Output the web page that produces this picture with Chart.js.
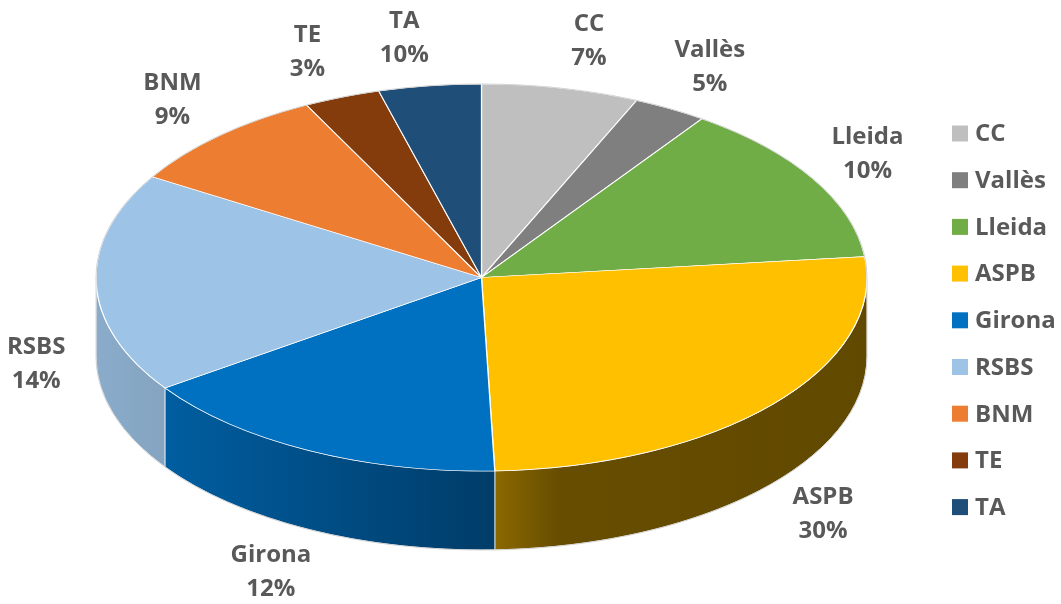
<!DOCTYPE html>
<html>
<head>
<meta charset="utf-8">
<script src="https://cdn.jsdelivr.net/npm/chart.js@4.4.1/dist/chart.umd.min.js"></script>
<style>
  html, body { margin: 0; padding: 0; background: #fff; }
  #chart { display: block; }
</style>
</head>
<body>
<canvas id="chart" width="1061" height="604"></canvas>
<script>
const categories = ['CC', 'Vallès', 'Lleida', 'ASPB', 'Girona', 'RSBS', 'BNM', 'TE', 'TA'];
// slice sizes as drawn in the picture (the printed percentages differ)
const sliceValues = [6.6, 3.1, 13.6, 26.2, 15.9, 18.4, 8.8, 3.2, 4.3];
const percentLabels = ['7%', '5%', '10%', '30%', '12%', '14%', '9%', '3%', '10%'];
const sliceColors = ['#BFBFBF', '#7F7F7F', '#70AD47', '#FFC000', '#0070C0', '#9DC3E6', '#ED7D31', '#843C0C', '#1F4E79'];

const FONT = '"Open Sans", "DejaVu Sans", sans-serif';
const TEXT_COLOR = '#595959';

function shade(hex, f) {
  const n = parseInt(hex.slice(1), 16);
  const r = Math.round(((n >> 16) & 255) * f);
  const g = Math.round(((n >> 8) & 255) * f);
  const b = Math.round((n & 255) * f);
  return `rgb(${r},${g},${b})`;
}

// squash the flat pie into an ellipse and give it a rim
const pie3d = {
  id: 'pie3d',
  beforeDatasetsDraw(chart, args, opts) {
    const ctx = chart.ctx;
    const arcs = chart.getDatasetMeta(0).data;
    const { cx, cy, rx, ry, depth } = opts;
    const colors = chart.data.datasets[0].backgroundColor;
    ctx.save();
    arcs.forEach((arc, i) => {
      const t0 = Math.max(arc.startAngle, 0);
      const t1 = Math.min(arc.endAngle, Math.PI);
      if (t1 <= t0) return;
      const grad = ctx.createLinearGradient(cx - rx, 0, cx + rx, 0);
      [[0, 0.88], [0.085, 0.84], [0.52, 0.54], [0.6, 0.4], [1, 0.38]]
        .forEach(([stop, f]) => grad.addColorStop(stop, shade(colors[i], f)));
      ctx.beginPath();
      ctx.ellipse(cx, cy, rx, ry, 0, t0, t1);
      ctx.ellipse(cx, cy + depth, rx, ry, 0, t1, t0, true);
      ctx.closePath();
      ctx.fillStyle = grad;
      ctx.fill();
      ctx.strokeStyle = 'rgba(255,255,255,0.7)';
      ctx.lineWidth = 1;
      ctx.stroke();
    });
    const a = arcs[0];
    ctx.translate(cx, cy);
    ctx.scale(rx / a.outerRadius, ry / a.outerRadius);
    ctx.translate(-a.x, -a.y);
  },
  afterDatasetsDraw(chart, args, opts) {
    const ctx = chart.ctx;
    ctx.restore();
    const { cx, cy, rx, ry, depth } = opts;
    const arcs = chart.getDatasetMeta(0).data;

    // rim outline
    ctx.save();
    ctx.strokeStyle = '#D4D4D4';
    ctx.lineWidth = 1;
    ctx.beginPath();
    ctx.ellipse(cx, cy, rx, ry, 0, Math.PI, 2 * Math.PI);
    ctx.stroke();
    ctx.beginPath();
    ctx.moveTo(cx + rx, cy);
    ctx.lineTo(cx + rx, cy + depth);
    ctx.ellipse(cx, cy + depth, rx, ry, 0, 0, Math.PI);
    ctx.lineTo(cx - rx, cy);
    ctx.stroke();

    // data labels outside each slice
    ctx.font = `bold 24px ${FONT}`;
    ctx.fillStyle = TEXT_COLOR;
    ctx.textAlign = 'center';
    ctx.textBaseline = 'middle';
    arcs.forEach((arc, i) => {
      const mid = (arc.startAngle + arc.endAngle) / 2;
      const c = Math.cos(mid), s = Math.sin(mid);
      const x = cx + rx * c + c * 40 + Math.sign(c) * 20;
      const y = cy + ry * s + s * 48 + (s > 0 ? depth : 0);
      ctx.fillText(chart.data.labels[i], x, y - 17);
      ctx.fillText(percentLabels[i], x, y + 17);
    });
    ctx.restore();
  },
  afterDraw(chart, args, opts) {
    // legend on the right
    const ctx = chart.ctx;
    const { legendX, legendY, legendStep } = opts;
    const colors = chart.data.datasets[0].backgroundColor;
    ctx.save();
    ctx.font = `bold 24px ${FONT}`;
    ctx.fillStyle = TEXT_COLOR;
    ctx.textBaseline = 'middle';
    chart.data.labels.forEach((label, i) => {
      const y = legendY + i * legendStep;
      ctx.fillStyle = colors[i];
      ctx.fillRect(legendX, y - 8, 16, 16);
      ctx.fillStyle = TEXT_COLOR;
      ctx.fillText(label, legendX + 23, y + 1);
    });
    ctx.restore();
  }
};

new Chart(document.getElementById('chart'), {
  type: 'pie',
  data: {
    labels: categories,
    datasets: [{
      data: sliceValues,
      backgroundColor: sliceColors,
      borderColor: '#FFFFFF',
      borderWidth: 1,
      clip: false
    }]
  },
  options: {
    responsive: false,
    animation: false,
    events: [],
    plugins: {
      legend: { display: false },
      tooltip: { enabled: false },
      pie3d: { cx: 481.5, cy: 277.5, rx: 385.5, ry: 193.5, depth: 79, legendX: 952, legendY: 133.5, legendStep: 46.7 }
    }
  },
  plugins: [pie3d]
});
</script>
</body>
</html>
